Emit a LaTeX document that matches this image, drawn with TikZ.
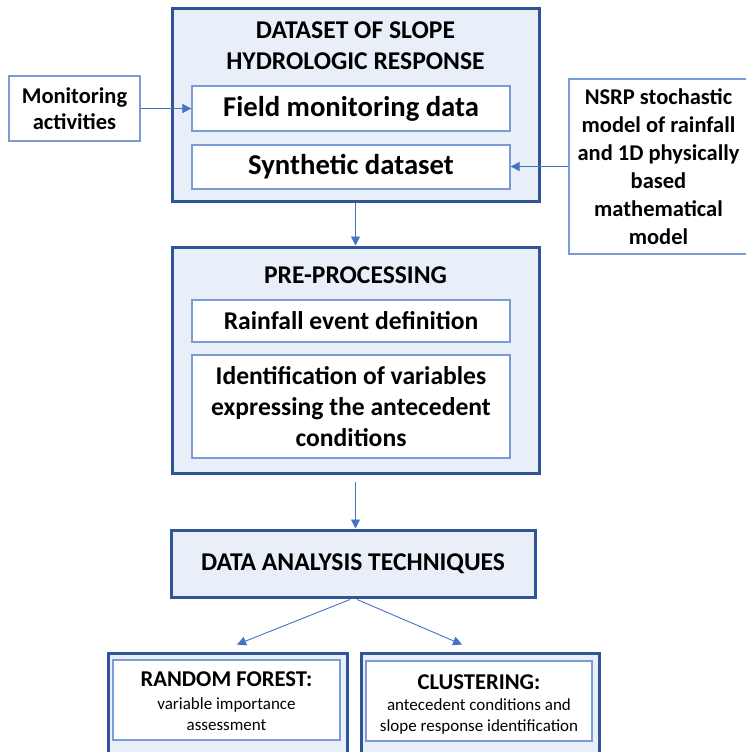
\documentclass[tikz,border=0pt]{standalone}
\usepackage{fontspec}
\setmainfont{Carlito}
\usetikzlibrary{calc,arrows.meta}
\definecolor{outerb}{HTML}{2F5597}
\definecolor{outerf}{HTML}{E9EFF8}
\definecolor{innerb}{HTML}{7A9BD6}
\definecolor{arr}{HTML}{4472C4}
\tikzset{
  outerbox/.style={draw=outerb, line width=3pt, fill=outerf, inner sep=0pt},
  innerbox/.style={draw=innerb, line width=1.3pt, fill=white, inner sep=0pt, align=center},
  sidebox/.style={draw=innerb, line width=1.2pt, fill=white, inner sep=0pt, align=center},
  conn/.style={draw=arr, line width=0.9pt, -{Triangle[length=9pt,width=9pt]}},
  bigbold/.style={font=\fontsize{25.6}{31}\selectfont\bfseries, align=center},
  boxbold/.style={font=\fontsize{28.7}{32}\selectfont\bfseries, align=center},
  sidebold/.style={font=\fontsize{22.5}{28}\selectfont\bfseries, align=center},
  subtitle/.style={font=\fontsize{22.6}{26}\selectfont\bfseries, align=center, inner sep=0pt},
  subtext/.style={font=\fontsize{17}{20.5}\selectfont, align=center, inner sep=0pt},
}
\begin{document}
\begin{tikzpicture}[x=1pt,y=-1pt]
\useasboundingbox (0,0) rectangle (746,752);
\clip (0,0) rectangle (746,752);
% top block
\node[outerbox, minimum width=367pt, minimum height=192pt] (top) at (355.5,105) {};
\node[bigbold] (toptitle) at (355.5,46) {DATASET OF SLOPE\\HYDROLOGIC RESPONSE};
\node[innerbox, boxbold, minimum width=318pt, minimum height=45pt] (field) at (351,108.5) {Field monitoring data};
\node[innerbox, boxbold, minimum width=318pt, minimum height=44pt] (synth) at (351,167) {Synthetic dataset};
\node[sidebox, minimum width=131pt, minimum height=65pt, font=\fontsize{22.5}{26}\selectfont\bfseries] (monit) at (74.5,108.5) {Monitoring\\activities};
\node[sidebox, sidebold, minimum width=179pt, minimum height=175pt] (nsrp) at (658.5,166.5) {NSRP stochastic\\model of rainfall\\and 1D physically\\based\\mathematical\\model};
% pre-processing
\node[outerbox, minimum width=367pt, minimum height=226pt] (pre) at (355.5,360) {};
\node[bigbold] (pretitle) at (355.5,275) {PRE-PROCESSING};
\node[innerbox, bigbold, minimum width=318pt, minimum height=42pt] (rain) at (351,321) {Rainfall event definition};
\node[innerbox, bigbold, minimum width=318pt, minimum height=103pt] (ident) at (351,406.5) {Identification of variables\\expressing the antecedent\\conditions};
% data analysis
\node[outerbox, bigbold, minimum width=364pt, minimum height=67pt] (data) at (353,563.5) {DATA ANALYSIS TECHNIQUES};
% bottom
\node[outerbox, minimum width=239pt, minimum height=106pt] (rf) at (227.5,706) {};
\node[innerbox, minimum width=227pt, minimum height=80pt] (rfin) at (226.5,700) {};
\node[subtitle] (rft) at (226.5,679) {RANDOM FOREST:};
\node[subtext] (rfd) at (226.5,714) {variable importance\\assessment};
\node[outerbox, minimum width=238pt, minimum height=106pt] (cl) at (480,706) {};
\node[innerbox, minimum width=226pt, minimum height=80pt] (clin) at (479,701) {};
\node[subtitle] (clt) at (479,682) {CLUSTERING:};
\node[subtext] (cld) at (479,716.5) {antecedent conditions and\\slope response identification};
% connectors
\draw[conn] (monit.east) -- (field.west);
\draw[conn] (nsrp.west) -- (nsrp.west -| synth.east);
\draw[conn] (top.south) -- (pre.north);
\draw[conn, shorten <=7pt] (pre.south) -- (pre.south |- data.north);
\draw[conn] ($(data.south)+(-3,1)$) -- ($(rf.north)+(9.5,-7)$);
\draw[conn] ($(data.south)+(4,1)$) -- ($(cl.north)+(-18,-7)$);
\end{tikzpicture}
\end{document}
